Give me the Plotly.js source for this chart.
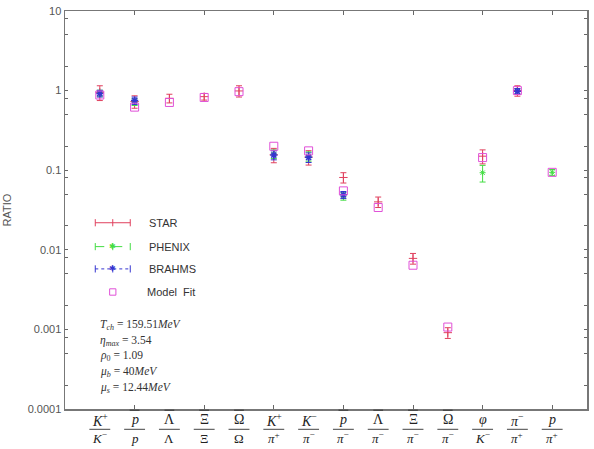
<!DOCTYPE html>
<html>
<head>
<meta charset="utf-8">
<script src="https://cdn.plot.ly/plotly-3.0.1.min.js"></script>
<style>html,body{margin:0;padding:0;background:#fff;}#chart{width:594px;height:449px;}</style>
</head>
<body>
<div id="chart"></div>
<script>
// ---- data ----
var categories = [1,2,3,4,5,6,7,8,9,10,11,12,13,14];
var numerators = ['<i>K</i><sup>+</sup>','<i>p</i>','\u039B','\u039E','\u03A9','<i>K</i><sup>+</sup>','<i>K</i><sup>\u2212</sup>','<i>p</i>','\u039B','\u039E','\u03A9','<i>\u03C6</i>','<i>\u03C0</i><sup>\u2212</sup>','<i>p</i>'];
var numeratorBarred = [false,true,true,true,true,false,false,true,true,true,true,false,false,false];
var denominators = ['<i>K</i><sup>\u2212</sup>','<i>p</i>','\u039B','\u039E','\u03A9','<i>\u03C0</i><sup>+</sup>','<i>\u03C0</i><sup>\u2212</sup>','<i>\u03C0</i><sup>\u2212</sup>','<i>\u03C0</i><sup>\u2212</sup>','<i>\u03C0</i><sup>\u2212</sup>','<i>\u03C0</i><sup>\u2212</sup>','<i>K</i><sup>\u2212</sup>','<i>\u03C0</i><sup>+</sup>','<i>\u03C0</i><sup>+</sup>'];

var starVals   = [0.95, 0.73, 0.80, 0.84, 0.99, 0.156, 0.146, 0.081, 0.040, 0.0078, 0.00091, 0.150, 1.00, null];
var starErr    = [0.20, 0.13, 0.10, 0.08, 0.16, 0.032, 0.030, 0.012, 0.006, 0.0012, 0.00014, 0.030, 0.15, null];
var phenixVals = [0.93, 0.72, null, null, null, 0.160, 0.150, 0.047, null, null, null, 0.093, 0.98, 0.094];
var phenixErr  = [0.08, 0.07, null, null, null, 0.020, 0.020, 0.005, null, null, null, 0.022, 0.08, 0.008];
var brahmsVals = [0.92, 0.75, null, null, null, 0.155, 0.145, 0.049, null, null, null, null, 0.98, null];
var brahmsErr  = [0.09, 0.08, null, null, null, 0.020, 0.020, 0.005, null, null, null, null, 0.08, null];
var modelVals  = [0.88, 0.62, 0.71, 0.82, 0.97, 0.200, 0.175, 0.055, 0.034, 0.0064, 0.00107, 0.144, 1.00, 0.094];

var yTickVals = [1e-4, 1e-3, 1e-2, 1e-1, 1, 10];
var yTickText = ['0.0001', '0.001', '0.01', '0.1', '1', '10'];
var yMinorVals = [];
yTickVals.slice(0,5).forEach(function(d){ [2,5,8].forEach(function(m){ yMinorVals.push(d*m); }); });
var xTickVals = [2,4,6,8,10,12,14];

var paramLines = [
  '<i>T</i><sub><i>ch</i></sub> = 159.51<i>MeV</i>',
  '<i>\u03B7</i><sub><i>max</i></sub> = 3.54',
  '<i>\u03C1</i><sub>0</sub> = 1.09',
  '<i>\u03BC</i><sub><i>b</i></sub> = 40<i>MeV</i>',
  '<i>\u03BC</i><sub><i>s</i></sub> = 12.44<i>MeV</i>'
];

var RED = '#e0405e', GREEN = '#44dd44', BLUE = '#3535d0', MAG = '#e050d8';

var traces = [
  {x: categories, y: starVals, type:'scatter', mode:'markers', name:'STAR',
   marker:{symbol:'cross-thin-open', size:6, color:RED, line:{color:RED, width:1}},
   error_y:{type:'data', array:starErr, visible:true, color:RED, thickness:1, width:3}},
  {x: categories, y: phenixVals, type:'scatter', mode:'markers', name:'PHENIX',
   marker:{symbol:'asterisk-open', size:5, color:GREEN, line:{color:GREEN, width:1}},
   error_y:{type:'data', array:phenixErr, visible:true, color:GREEN, thickness:1, width:3}},
  {x: categories, y: brahmsVals, type:'scatter', mode:'markers', name:'BRAHMS',
   marker:{symbol:'asterisk-open', size:6, color:BLUE, line:{color:BLUE, width:1.5}},
   error_y:{type:'data', array:brahmsErr, visible:true, color:BLUE, thickness:1, width:3}},
  {x: categories, y: modelVals, type:'scatter', mode:'markers', name:'Model Fit',
   marker:{symbol:'square-open', size:8, color:MAG, line:{color:MAG, width:1}}}
];

var annotations = [];
var shapes = [];
categories.forEach(function(c,i){
  annotations.push({x:c, y:-0.027, xref:'x', yref:'paper', text:numerators[i], showarrow:false,
    xanchor:'center', yanchor:'middle', font:{family:'Liberation Serif', size:14, color:'#222'}});
  annotations.push({x:c, y:-0.074, xref:'x', yref:'paper', text:denominators[i], showarrow:false,
    xanchor:'center', yanchor:'middle', font:{family:'Liberation Serif', size:13, color:'#222'}});
  shapes.push({type:'line', xref:'x', yref:'paper', x0:c-0.3, x1:c+0.3, y0:-0.051, y1:-0.051,
    line:{color:'#444', width:1}});
  if (numeratorBarred[i]) {
    shapes.push({type:'line', xref:'x', yref:'paper', x0:c-0.14, x1:c+0.14, y0:-0.003, y1:-0.003,
      line:{color:'#333', width:1}});
  }
});
paramLines.forEach(function(t,i){
  annotations.push({x:0.063, y:0.21 - i*0.039, xref:'paper', yref:'paper', text:t, showarrow:false,
    xanchor:'left', yanchor:'middle', font:{family:'Liberation Serif', size:11.5, color:'#333'}});
});

// hand-drawn legend (gnuplot style)
var legNames = ['STAR','PHENIX','BRAHMS','Model  Fit'];
var legY = [0.468, 0.408, 0.352, 0.294];
var legCol = [RED, GREEN, BLUE, MAG];
var legDash = ['solid','dash','dot'];
var lx0 = 0.058, lx1 = 0.125, lxm = 0.0915;
legNames.forEach(function(n,i){
  annotations.push({x:(i===3?0.154:0.157) , y:legY[i], xref:'paper', yref:'paper', text:n, showarrow:false,
    xanchor:'left', yanchor:'middle', font:{family:'Liberation Sans', size:11, color:'#333'}});
  if (i < 3) {
    shapes.push({type:'line', xref:'paper', yref:'paper', x0:lx0, x1:lx1, y0:legY[i], y1:legY[i], line:{color:legCol[i], width:1, dash:legDash[i]}});
    [lx0, lxm, lx1].forEach(function(xx){
      shapes.push({type:'line', xref:'paper', yref:'paper', x0:xx, x1:xx, y0:legY[i]-0.009, y1:legY[i]+0.009, line:{color:legCol[i], width:1}});
    });
    if (i > 0) {
      annotations.push({x:lxm, y:legY[i], xref:'paper', yref:'paper', text:'\u2731', showarrow:false,
        xanchor:'center', yanchor:'middle', font:{size:8, color:legCol[i]}});
    }
  } else {
    shapes.push({type:'rect', xref:'paper', yref:'paper', x0:lxm-0.006, x1:lxm+0.006, y0:legY[i]-0.008, y1:legY[i]+0.008, line:{color:MAG, width:1}});
  }
});

var layout = {
  width:594, height:449,
  margin:{l:65, r:7, t:11, b:40},
  paper_bgcolor:'#fff', plot_bgcolor:'#fff',
  showlegend:false,
  font:{family:'Liberation Sans', color:'#555', size:11},
  xaxis:{range:[0,15], tickvals:xTickVals, showticklabels:false, ticks:'inside', ticklen:4, tickcolor:'#666',
    showgrid:false, zeroline:false, showline:true, linecolor:'#777', linewidth:1.5, mirror:'ticks'},
  yaxis:{type:'log', range:[-4,1], tickmode:'array', tickvals:yTickVals, ticktext:yTickText, ticks:'inside', ticklen:3, tickcolor:'#666',
    minor:{tickmode:'array', tickvals:yMinorVals, ticks:'inside', ticklen:3, tickcolor:'#666', showgrid:false},
    showgrid:false, zeroline:false, showline:true, linecolor:'#777', linewidth:1.5, mirror:'ticks',
    tickfont:{family:'Liberation Sans', size:11, color:'#555'},
    title:{text:'RATIO', font:{family:'Liberation Sans', size:11, color:'#555'}, standoff:14}},
  annotations: annotations,
  shapes: shapes
};

Plotly.newPlot('chart', traces, layout, {staticPlot:true, displayModeBar:false});
</script>
</body>
</html>
